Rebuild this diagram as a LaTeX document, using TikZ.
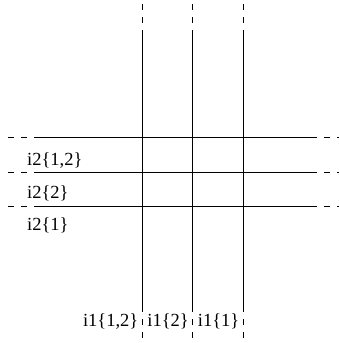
\documentclass[tikz,border=0pt]{standalone}
\usepackage{fontspec}
\setmainfont{Liberation Serif}
\begin{document}
\begin{tikzpicture}[x=1pt,y=-1pt,
  solidline/.style={line width=0.9pt,black},
  dashline/.style={line width=0.9pt,black,dash pattern=on 6pt off 7pt},
  lbl/.style={inner sep=3.5pt,font=\fontsize{18.5}{21}\selectfont}]
\useasboundingbox (0,0) rectangle (338,343);
% vertical lines
\foreach \n/\x in {a/142,b/192.5,c/243}{
  \coordinate (\n top) at (\x,4);
  \coordinate (\n s1) at (\x,31);
  \coordinate (\n s2) at (\x,312);
  \coordinate (\n bot) at (\x,338);
  \draw[dashline] (\n top) -- (\n s1);
  \draw[solidline] (\n s1) -- (\n s2);
  \draw[dashline] (\n bot) -- (\n s2);
}
% horizontal lines
\foreach \n/\y in {p/137.5,q/172,r/206}{
  \coordinate (\n left) at (8,\y);
  \coordinate (\n s1) at (35,\y);
  \coordinate (\n s2) at (317,\y);
  \coordinate (\n right) at (343,\y);
  \draw[dashline] (\n left) -- (\n s1);
  \draw[solidline] (\n s1) -- (\n s2);
  \draw[dashline] (\n right) -- (\n s2);
}
% labels
\node[lbl,anchor=base west] (l12) at (23.5,165) {i2\{1,2\}};
\node[lbl,anchor=base west] (l2) at (23.5,198) {i2\{2\}};
\node[lbl,anchor=base west] (l1) at (23.5,230) {i2\{1\}};
\node[lbl,anchor=base east] (m12) at (142,326) {i1\{1,2\}};
\node[lbl,anchor=base east] (m2) at (192.5,326) {i1\{2\}};
\node[lbl,anchor=base east] (m1) at (243,326) {i1\{1\}};
\end{tikzpicture}
\end{document}
